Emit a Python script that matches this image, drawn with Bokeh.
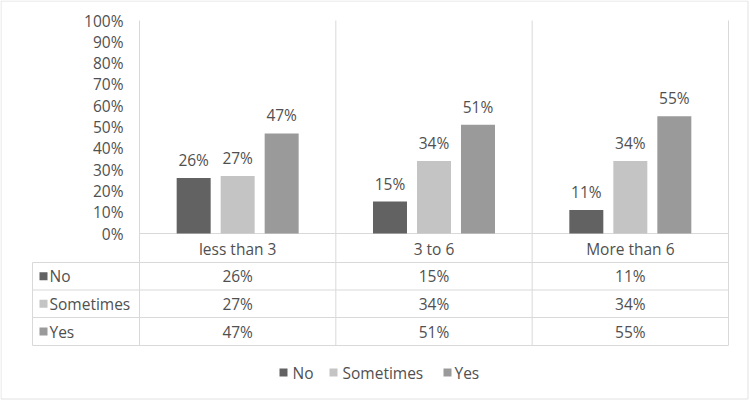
from bokeh.plotting import figure
from bokeh.models import Range1d
from bokeh.core.properties import value
from bokeh.embed import file_html
from bokeh.resources import INLINE

# ---- data ----
categories = ["less than 3", "3 to 6", "More than 6"]
series = ["No", "Sometimes", "Yes"]
no_vals = [26, 15, 11]
sometimes_vals = [27, 34, 34]
yes_vals = [47, 51, 55]
y_ticks = [0, 10, 20, 30, 40, 50, 60, 70, 80, 90, 100]

values = [no_vals, sometimes_vals, yes_vals]
colors = ["#626262", "#c4c4c4", "#9a9a9a"]

FONT = value("Open Sans")
TXT = "#505050"
GRID = "#d9d9d9"
FS = "15.5px"

# pixel <-> data mapping: x: category k spans [k, k+1]
PX_PER_CAT = 196.33
PX_PER_PCT = 2.13
X0_PX, Y0_PX = 139, 233
W, H = 750, 401
x_start = (0 - X0_PX) / PX_PER_CAT
x_end = (W - X0_PX) / PX_PER_CAT
y_top = (Y0_PX - 0) / PX_PER_PCT
y_bot = (Y0_PX - H) / PX_PER_PCT

def dx(px):
    return (px - X0_PX) / PX_PER_CAT

def dy(py):
    return (Y0_PX - py) / PX_PER_PCT

p = figure(width=W, height=H, output_backend="svg", toolbar_location=None,
           x_range=Range1d(x_start, x_end), y_range=Range1d(y_bot, y_top),
           x_axis_location=None, y_axis_location=None, min_border=0)
p.grid.visible = False
p.outline_line_color = None
p.background_fill_color = "white"
p.border_fill_color = "white"

n = len(categories)
top = max(y_ticks)

# outer chart border
bx = [dx(0.5), dx(747.5)]
by = [dy(0.5), dy(398.5)]
p.segment(x0=[bx[0], bx[0], bx[1], bx[0]], y0=[by[0], by[1], by[0], by[0]],
          x1=[bx[1], bx[1], bx[1], bx[0]], y1=[by[0], by[1], by[1], by[1]],
          line_color="#e2e2e2", line_width=1)

# category separators (plot + table)
table_bottom = dy(345)
p.segment(x0=list(range(n + 1)), y0=[top] * (n + 1), x1=list(range(n + 1)),
          y1=[table_bottom] * (n + 1), line_color=GRID, line_width=1)
# baseline
p.segment(x0=[0], y0=[0], x1=[n], y1=[0], line_color=GRID, line_width=1)

# bars
bar_w = 34 / PX_PER_CAT
offs = [-44 / PX_PER_CAT, 0, 44 / PX_PER_CAT]
for s, (name, vals, col) in enumerate(zip(series, values, colors)):
    xs = [i + 0.5 + offs[s] for i in range(n)]
    p.vbar(x=xs, top=vals, width=bar_w, bottom=0, fill_color=col, line_color=None)
    p.text(x=xs, y=[v + 18 / PX_PER_PCT for v in vals], text=[f"{v}%" for v in vals],
           text_font=FONT, text_font_size=FS, text_color=TXT,
           text_align="center", text_baseline="alphabetic")

# y tick labels
p.text(x=[dx(123)] * len(y_ticks), y=y_ticks, text=[f"{t}%" for t in y_ticks],
       text_font=FONT, text_font_size=FS, text_color=TXT,
       text_align="right", text_baseline="middle")

# category labels
p.text(x=[i + 0.5 for i in range(n)], y=[dy(248)] * n, text=categories,
       text_font=FONT, text_font_size=FS, text_color=TXT,
       text_align="center", text_baseline="middle")

# table
row_lines = [dy(262), dy(289.5), dy(317), dy(345)]
left = dx(32)
p.segment(x0=[left] * len(row_lines), y0=row_lines, x1=[n] * len(row_lines),
          y1=row_lines, line_color=GRID, line_width=1)
p.segment(x0=[left], y0=[row_lines[0]], x1=[left], y1=[row_lines[-1]],
          line_color=GRID, line_width=1)
row_c = [(row_lines[k] + row_lines[k + 1]) / 2 for k in range(len(series))]
p.scatter(x=[dx(43)] * len(series), y=row_c, marker="square", size=8,
          fill_color=colors, line_color=None)
p.text(x=[dx(49)] * len(series), y=row_c, text=series,
       text_font=FONT, text_font_size=FS, text_color=TXT,
       text_align="left", text_baseline="middle")
for s, vals in enumerate(values):
    p.text(x=[i + 0.5 for i in range(n)], y=[row_c[s]] * n, text=[f"{v}%" for v in vals],
           text_font=FONT, text_font_size=FS, text_color=TXT,
           text_align="center", text_baseline="middle")

# bottom legend
leg_y = dy(372)
key_px = [283, 333, 447]
txt_px = [292, 342, 454]
p.scatter(x=[dx(k) for k in key_px], y=[leg_y] * len(series), marker="square", size=8,
          fill_color=colors, line_color=None)
p.text(x=[dx(t) for t in txt_px], y=[leg_y] * len(series), text=series,
       text_font=FONT, text_font_size=FS, text_color=TXT,
       text_align="left", text_baseline="middle")

open("out.html", "w").write(file_html(p, INLINE))
